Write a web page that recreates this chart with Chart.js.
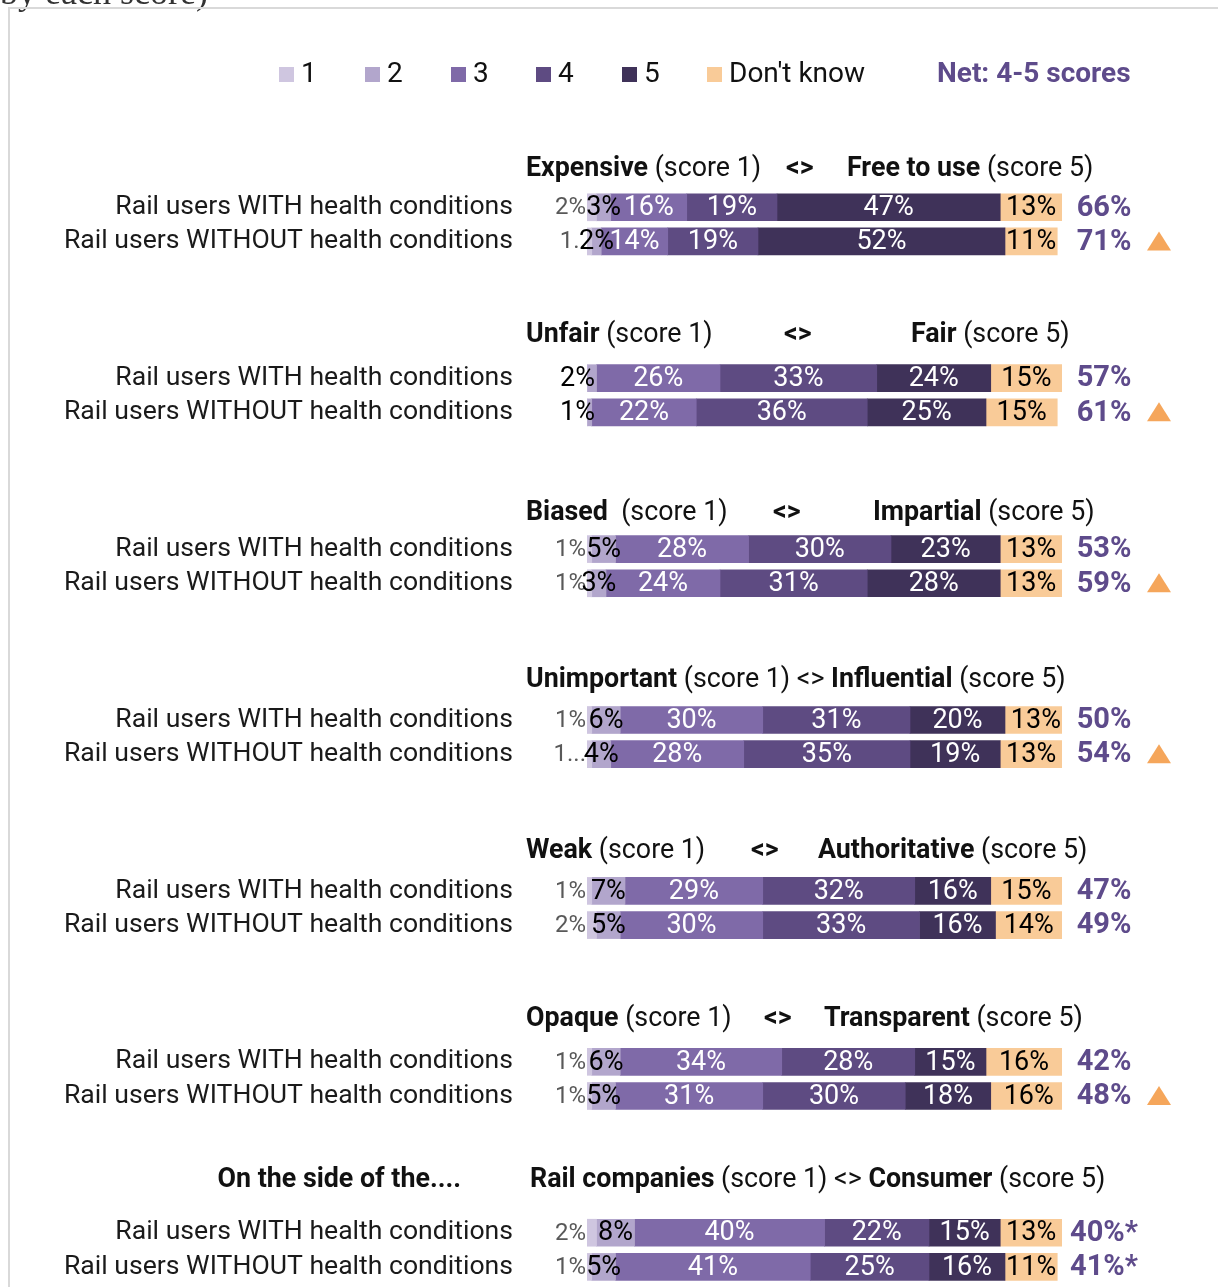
<!DOCTYPE html>
<html>
<head>
<meta charset="utf-8">
<script src="https://cdn.jsdelivr.net/npm/chart.js@4.4.0/dist/chart.umd.min.js"></script>
<style>
html, body { margin: 0; padding: 0; background: #fff; }
#wrap { width: 1218px; height: 1287px; position: relative; overflow: hidden; }
</style>
</head>
<body>
<div id="wrap"><canvas id="chart-bar" width="1218" height="1287"></canvas></div>
<script>
// series (legend) names and colours
var seriesNames = ['1', '2', '3', '4', '5', "Don't know"];
var seriesColors = ['#cfc6e0', '#b2a6cc', '#7f6aa8', '#5e4b82', '#3f3259', '#f9cb98'];

// each attribute pair has two rows
var rowNames = ['Rail users WITH health conditions', 'Rail users WITHOUT health conditions'];
var leftPole = ['Expensive', 'Unfair', 'Biased', 'Unimportant', 'Weak', 'Opaque', 'Rail companies'];
var rightPole = ['Free to use', 'Fair', 'Impartial', 'Influential', 'Authoritative', 'Transparent', 'Consumer'];
var groupPrefix = ['', '', '', '', '', '', 'On the side of the....'];

// values, % (row order: group1 WITH, group1 WITHOUT, group2 WITH, ...)
var score1 = [2, 1, 0, 0, 1, 1, 1, 1, 1, 2, 1, 1, 2, 1];
var score2 = [3, 2, 2, 1, 5, 3, 6, 4, 7, 5, 6, 5, 8, 5];
var score3 = [16, 14, 26, 22, 28, 24, 30, 28, 29, 30, 34, 31, 40, 41];
var score4 = [19, 19, 33, 36, 30, 31, 31, 35, 32, 33, 28, 30, 22, 25];
var score5 = [47, 52, 24, 25, 23, 28, 20, 19, 16, 16, 15, 18, 15, 16];
var dontKnow = [13, 11, 15, 15, 13, 13, 13, 13, 15, 14, 16, 16, 13, 11];
var netScores = ['66%', '71%', '57%', '61%', '53%', '59%', '50%', '54%', '47%', '49%', '42%', '48%', '40%*', '41%*'];
var higher = [false, true, false, true, false, true, false, true, false, false, false, true, false, false];
// text of the small label left of each bar (as shown, some cut short)
var leftTags = ['2%', '1..', '2%', '1%', '1%', '1%', '1%', '1...', '1%', '2%', '1%', '1%', '2%', '1%'];

// layout
var headerX = [[526, 786, 847], [526, 784, 911], [526, 773, 873], [526], [526, 751, 818], [526, 764, 824], [530]];
var headerLift = [38, 43, 36, 40, 40, 43, 52];
var legendX = [279, 365, 451, 536, 622, 707];

// build category slots: header slot, two bar rows, two gap slots
var slotLabels = [];
var slotRow = [];
for (var g = 0; g < leftPole.length; g++) {
    slotLabels.push(''); slotRow.push(-1);
    slotLabels.push(rowNames[0]); slotRow.push(2 * g);
    slotLabels.push(rowNames[1]); slotRow.push(2 * g + 1);
    if (g < leftPole.length - 1) {
        slotLabels.push(''); slotRow.push(-1);
        slotLabels.push(''); slotRow.push(-1);
    }
}
function toSlots(arr) {
    return slotRow.map(function(r) { return r < 0 ? null : arr[r]; });
}
var allSeries = [score1, score2, score3, score4, score5, dontKnow];
var datasets = allSeries.map(function(arr, s) {
    return {
        label: seriesNames[s],
        data: toSlots(arr),
        backgroundColor: seriesColors[s],
        borderWidth: 0,
        barThickness: 27
    };
});

function firstRowSlot(g) { return slotRow.indexOf(2 * g); }

var drawPlugin = {
    id: 'extras',
    beforeDraw: function(chart) {
        var ctx = chart.ctx;
        ctx.save();
        ctx.fillStyle = '#fff';
        ctx.fillRect(0, 0, chart.width, chart.height);
        // cut-off title above the frame
        ctx.fillStyle = '#333';
        ctx.font = '36px "Liberation Serif"';
        ctx.textBaseline = 'alphabetic';
        ctx.textAlign = 'left';
        ctx.fillText('by each score)', 0, 4);
        // frame
        ctx.strokeStyle = '#d9d9d9';
        ctx.lineWidth = 2;
        ctx.beginPath();
        ctx.moveTo(9, 1287); ctx.lineTo(9, 8); ctx.lineTo(1218, 8);
        ctx.stroke();
        ctx.restore();
    },
    afterDatasetsDraw: function(chart) {
        var ctx = chart.ctx;
        var yScale = chart.scales.y;
        ctx.save();
        ctx.textBaseline = 'middle';

        // legend
        ctx.font = '28px Roboto';
        ctx.textAlign = 'left';
        seriesNames.forEach(function(name, s) {
            ctx.fillStyle = seriesColors[s];
            ctx.fillRect(legendX[s], 67, 15, 15);
            ctx.fillStyle = '#111';
            ctx.fillText(name, legendX[s] + 22, 75);
        });
        ctx.font = 'bold 28px Roboto';
        ctx.fillStyle = '#5e4b8b';
        ctx.fillText('Net: 4-5 scores', 937, 75);

        // group headers
        leftPole.forEach(function(lp, g) {
            var y = yScale.getPixelForValue(firstRowSlot(g)) - headerLift[g];
            var xs = headerX[g];
            ctx.fillStyle = '#111';
            ctx.textAlign = 'left';
            var x = xs[0];
            ctx.font = 'bold 26.8px Roboto';
            ctx.fillText(lp, x, y);
            x += ctx.measureText(lp).width;
            ctx.font = '26.8px Roboto';
            var t1 = (g === 2 ? '  ' : ' ') + '(score 1)';
            ctx.fillText(t1, x, y);
            x += ctx.measureText(t1).width;
            if (xs.length > 1) {
                ctx.font = 'bold 26.8px Roboto';
                ctx.fillText('<>', xs[1], y);
                x = xs[2];
            } else {
                ctx.fillText(' <> ', x, y);
                x += ctx.measureText(' <> ').width;
            }
            ctx.font = 'bold 26.8px Roboto';
            ctx.fillText(rightPole[g], x, y);
            x += ctx.measureText(rightPole[g]).width;
            ctx.font = '26.8px Roboto';
            ctx.fillText(' (score 5)', x, y);
            if (groupPrefix[g]) {
                ctx.font = 'bold 26.8px Roboto';
                ctx.textAlign = 'right';
                ctx.fillText(groupPrefix[g], 461, y);
            }
        });

        // value labels inside / beside the bars
        chart.data.datasets.forEach(function(ds, s) {
            var meta = chart.getDatasetMeta(s);
            meta.data.forEach(function(bar, i) {
                var v = ds.data[i];
                var r = slotRow[i];
                if (v === null || r < 0 || v === 0) return;
                var start = Math.min(bar.base, bar.x);
                var mid = (bar.base + bar.x) / 2;
                ctx.font = '27px Roboto';
                if (s === 0) {
                    ctx.font = '24px Roboto';
                    ctx.fillStyle = '#595959';
                    ctx.textAlign = 'right';
                    ctx.fillText(leftTags[r], start - 1, bar.y + 1);
                } else if (s === 1) {
                    ctx.fillStyle = '#000';
                    if (score1[r] === 0) {
                        ctx.textAlign = 'right';
                        ctx.fillText(leftTags[r], start + 8, bar.y + 1);
                    } else {
                        ctx.textAlign = 'center';
                        ctx.fillText(v + '%', mid, bar.y + 1);
                    }
                } else {
                    ctx.fillStyle = s === 5 ? '#000' : '#fff';
                    ctx.textAlign = 'center';
                    ctx.fillText(v + '%', mid, bar.y + 1);
                }
            });
        });

        // net 4-5 and significance markers
        var dkMeta = chart.getDatasetMeta(5);
        dkMeta.data.forEach(function(bar, i) {
            var r = slotRow[i];
            if (r < 0) return;
            ctx.font = 'bold 29px Roboto';
            ctx.fillStyle = '#5e4b8b';
            ctx.textAlign = 'center';
            ctx.fillText(netScores[r], 1104, bar.y + 1);
            if (higher[r]) {
                ctx.fillStyle = '#f5a65b';
                ctx.beginPath();
                ctx.moveTo(1159, bar.y - 10);
                ctx.lineTo(1171, bar.y + 9);
                ctx.lineTo(1147, bar.y + 9);
                ctx.closePath();
                ctx.fill();
            }
        });
        ctx.restore();
    }
};

var ctx = document.getElementById('chart-bar').getContext('2d');
var myChart = new Chart(ctx, {
    type: 'bar',
    data: {
        labels: slotLabels,
        datasets: datasets
    },
    options: {
        indexAxis: 'y',
        responsive: false,
        animation: false,
        layout: {
            padding: { top: 156, bottom: 3, left: 0, right: 156 }
        },
        plugins: {
            legend: { display: false },
            tooltip: { enabled: false }
        },
        scales: {
            x: {
                display: false,
                stacked: true,
                min: 0,
                max: 100
            },
            y: {
                stacked: true,
                grid: { display: false, drawTicks: false },
                border: { display: false },
                ticks: {
                    autoSkip: false,
                    padding: 74,
                    color: '#1a1a1a',
                    font: { family: 'Roboto', size: 26.6 }
                },
                afterFit: function(scale) {
                    scale.width = 587;
                    scale.paddingTop = 0;
                    scale.paddingBottom = 0;
                }
            }
        }
    },
    plugins: [drawPlugin]
});
</script>
</body>
</html>
